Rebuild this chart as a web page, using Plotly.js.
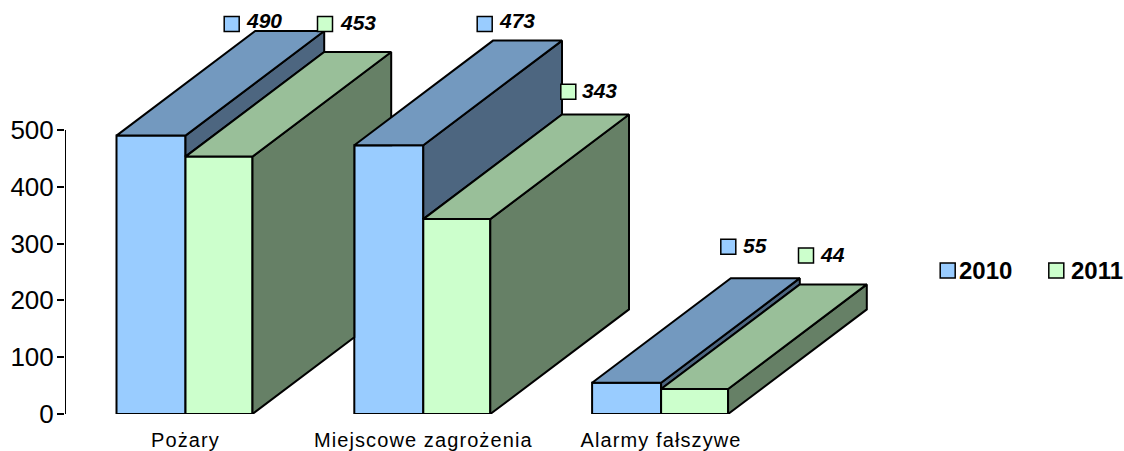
<!DOCTYPE html>
<html>
<head>
<meta charset="utf-8">
<script src="https://cdn.plot.ly/plotly-3.0.1.min.js"></script>
<style>html,body{margin:0;padding:0;background:#fff}#chart{width:1124px;height:451px}
.xtick text{letter-spacing:1.1px}</style>
</head>
<body>
<div id="chart"></div>
<script>
const categories = ["Pożary", "Miejscowe zagrożenia", "Alarmy fałszywe"];
const seriesNames = ["2010", "2011"];
const values2010 = [490, 473, 55];
const values2011 = [453, 343, 44];
const yTicks = [0, 100, 200, 300, 400, 500];

// layout constants in pixels
const W = 1124, H = 451, axisLeft = 65, zeroPx = 414.3, pxPerUnit = 0.5686;
const groupPx = 185.5, stepPx = 237.8, barPx0 = 69, barPx1 = 67, depthXPx = 138.7, depthYPx = 104.7;
const xOf = px => (px - groupPx) / stepPx;
const yOf = py => (zeroPx - py) / pxPerUnit;
const w0 = barPx0 / stepPx, w1 = barPx1 / stepPx, dx = depthXPx / stepPx, dv = depthYPx / pxPerUnit;

const colors = {
  front: ["#99CCFF", "#CCFFCC"],
  top: ["#7399BF", "#99BF99"],
  side: ["#4D6680", "#668066"]
};
const edge = {color: "#000", width: 2};
const idx = categories.map((_, i) => i);

function poly(xs, ys, fill) {
  return {type: "scatter", mode: "lines", x: xs.concat(xs[0]), y: ys.concat(ys[0]),
    fill: "toself", fillcolor: fill, line: {color: "#000", width: 2, simplify: false},
    cliponaxis: false, hoverinfo: "skip", showlegend: false};
}

const traces = [
  {type: "bar", name: seriesNames[0], x: idx, y: values2010, width: w0, offset: -w0,
   marker: {color: colors.front[0], line: edge}, cliponaxis: false, showlegend: false},
  {type: "bar", name: seriesNames[1], x: idx, y: values2011, width: w1, offset: 0,
   marker: {color: colors.front[1], line: edge}, cliponaxis: false, showlegend: false}
];

idx.forEach(i => {
  const a = values2010[i], b = values2011[i];
  // 2010 side, visible part above the 2011 top
  traces.push(poly([i, i + dx, i + dx, i], [a, a + dv, b + dv, b], colors.side[0]));
  // 2010 top
  traces.push(poly([i - w0, i, i + dx, i - w0 + dx], [a, a, a + dv, a + dv], colors.top[0]));
  // 2011 side, notched where the next group's front bar stands in front of it
  const r = i + w1, R = r + dx;
  let sx = [r, r, R, R], sy = [0, b, b + dv, dv];
  if (i + 1 < categories.length) {
    const nl = i + 1 - w0, nv = values2010[i + 1];
    const lower = dv * (nl - r) / dx;
    if (nl < R && lower < nv) {
      sx = [r, r, R, R, nl, nl];
      sy = [0, b, b + dv, nv, nv, lower];
    }
  }
  traces.push(poly(sx, sy, colors.side[1]));
  // 2011 top
  traces.push(poly([i, r, R, i + dx], [b, b, b + dv, b + dv], colors.top[1]));
});

// data labels: swatch centre and text anchor in pixels
const labelTexts = [values2010[0], values2011[0], values2010[1], values2011[1], values2010[2], values2011[2]];
const labelSeries = [0, 1, 0, 1, 0, 1];
const swatchPx = [[231.7, 24], [325, 24], [484.7, 24], [568.3, 91.7], [728.3, 247], [806, 255.7]];
const textPx = [[245, 21], [338.5, 22.7], [497.5, 20.7], [581, 90.7], [741.5, 245.7], [818.5, 255]];
const legendSwatchPx = [[947.7, 270.7], [1056.3, 270.7]];
const legendTextPx = [[958, 271], [1069.5, 271]];

[0, 1].forEach(s => {
  const pts = swatchPx.filter((_, k) => labelSeries[k] === s).concat([legendSwatchPx[s]]);
  traces.push({type: "scatter", mode: "markers", x: pts.map(p => xOf(p[0])), y: pts.map(p => yOf(p[1])),
    marker: {symbol: "square", size: 15, color: colors.front[s], line: {color: "#000", width: 1.5}},
    cliponaxis: false, hoverinfo: "skip", showlegend: false});
});

const annotations = labelTexts.map((t, k) => ({
  x: xOf(textPx[k][0]), y: yOf(textPx[k][1]), xref: "x", yref: "y", text: "<b><i>" + t + "</i></b>",
  showarrow: false, xanchor: "left", yanchor: "middle", xshift: -1,
  font: {family: "Liberation Sans, Arial, sans-serif", size: 21, color: "#000"}
})).concat(seriesNames.map((t, k) => ({
  x: xOf(legendTextPx[k][0]), y: yOf(legendTextPx[k][1]), xref: "x", yref: "y", text: "<b>" + t + "</b>",
  showarrow: false, xanchor: "left", yanchor: "middle", xshift: -1,
  font: {family: "Liberation Sans, Arial, sans-serif", size: 24, color: "#000"}
})));

const layout = {
  width: W, height: H, autosize: false,
  paper_bgcolor: "#fff", plot_bgcolor: "rgba(0,0,0,0)",
  margin: {l: axisLeft, r: 0, t: 0, b: H - zeroPx, pad: 0},
  barmode: "overlay", showlegend: false, annotations: annotations,
  xaxis: {range: [xOf(axisLeft), xOf(W)], tickmode: "array", tickvals: idx, ticktext: categories,
    showgrid: false, zeroline: false, showline: false, ticks: "", ticklabelstandoff: 12,
    tickfont: {family: "Liberation Sans, Arial, sans-serif", size: 20, color: "#000"}},
  yaxis: {range: [0, zeroPx / pxPerUnit], tickmode: "array", tickvals: yTicks,
    showgrid: false, zeroline: false, showline: false, ticks: "outside", ticklen: 7, tickwidth: 2, tickcolor: "#000",
    ticklabelstandoff: -2,
    tickfont: {family: "Liberation Sans, Arial, sans-serif", size: 26, color: "#000"}},
  shapes: [{type: "line", xref: "x", yref: "y", x0: xOf(axisLeft), x1: xOf(axisLeft), y0: 0, y1: 500,
    line: {color: "#000", width: 2}}]
};
Plotly.newPlot("chart", traces, layout, {displayModeBar: false, staticPlot: true});
</script>
</body>
</html>
